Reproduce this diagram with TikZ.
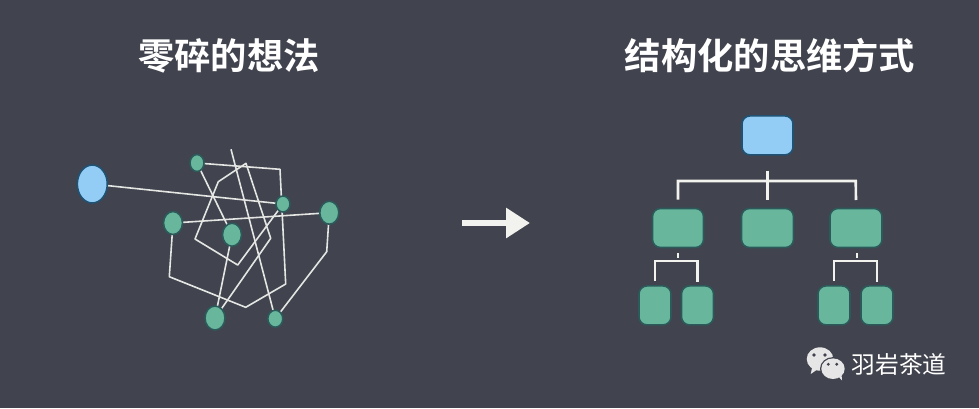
\documentclass[tikz,border=0pt]{standalone}
\usepackage{fontspec}
\usetikzlibrary{shapes.geometric,arrows.meta}
\newfontfamily\cjk{Noto Sans CJK SC}
\newfontfamily\cjkb{Noto Sans CJK SC Bold}
\definecolor{bg}{HTML}{41434E}
\definecolor{greenfill}{HTML}{68B79D}
\definecolor{greenedge}{HTML}{2C5A5A}
\definecolor{bluefill}{HTML}{93CDF6}
\definecolor{blueedge}{HTML}{1F5273}
\definecolor{wirecol}{HTML}{E4E6E3}
\definecolor{linecol}{HTML}{F2F3EF}
\definecolor{logocol}{HTML}{E6E6E6}
\tikzset{
  x=1pt,y=-1pt,
  headtext/.style={text=white,font=\cjkb\fontsize{36.3}{40}\selectfont,inner sep=0pt},
  marktext/.style={text=white,font=\cjk\fontsize{23.7}{26}\selectfont,inner sep=0pt},
  gdot/.style={ellipse,fill=greenfill,draw=greenedge,line width=1.6pt,inner sep=0pt},
  bdot/.style={ellipse,fill=bluefill,draw=blueedge,line width=1.6pt,inner sep=0pt},
  gbox/.style={rounded corners=8pt,fill=greenfill,draw=greenedge,line width=1.6pt,inner sep=0pt},
  bbox/.style={rounded corners=8pt,fill=bluefill,draw=blueedge,line width=1.6pt,inner sep=0pt},
  wire/.style={draw=wirecol,line width=1.6pt,line join=round},
  treeline/.style={draw=linecol,line width=2.6pt},
}
\newcommand{\gd}[4]{\node[gdot,minimum width=#3pt,minimum height=#4pt] (#1) at #2 {};}
\newcommand{\gb}[4]{\node[gbox,minimum width=#3pt,minimum height=#4pt] (#1) at #2 {};}
\begin{document}
\begin{tikzpicture}
\useasboundingbox (0,0) rectangle (979,408);
\fill[bg] (0,0) rectangle (979,408);
\node[headtext] (t1) at (229,56) {零碎的想法};
\node[headtext] (t2) at (770,56) {结构化的思维方式};
\coordinate (cblue) at (92.3,184);
\coordinate (c1) at (197,163);
\coordinate (c2) at (283,204);
\coordinate (c3) at (329.3,212.7);
\coordinate (c4) at (173,223);
\coordinate (c5) at (232,234.7);
\coordinate (c6) at (215,318);
\coordinate (c7) at (275.3,318.7);
\coordinate (free) at (231,149.3);
\draw[wire] (cblue) -- (c2);
\draw[wire] (c4) -- (c3);
\draw[wire] (c1) -- (c5) -- (c6);
\draw[wire] (c1) -- (280,169.3) -- (285.7,284) -- (245.7,307.3) -- (169.3,276.7) -- (c4);
\draw[wire] (c3) -- (326.7,251.7) -- (c7) -- (free);
\draw[wire] (c6) -- (270.7,238.3) -- (246,163.3) -- (218.3,181.7) -- (195,239) -- (237.7,265) -- (c2);
\node[bdot,minimum width=30pt,minimum height=38pt] (nblue) at (cblue) {};
\gd{n1}{(c1)}{14}{17}
\gd{n2}{(c2)}{14}{16}
\gd{n3}{(c3)}{19}{23}
\gd{n4}{(c4)}{19}{23}
\gd{n5}{(c5)}{19}{23}
\gd{n6}{(c6)}{20}{24}
\gd{n7}{(c7)}{15}{17}
\coordinate (as) at (462,223);
\coordinate (ae) at (530,223);
\draw[draw=linecol,line width=6.5pt,-{Triangle[length=24pt,width=29pt]}] (as) -- (ae);
\node[bbox,minimum width=51pt,minimum height=39pt] (root) at (767.5,135.4) {};
\gb{a}{(678,228)}{51}{39}
\gb{b}{(767.5,228)}{52}{39}
\gb{c}{(856,228)}{52}{39}
\gb{a1}{(655,305.4)}{32}{39}
\gb{a2}{(697.5,305.4)}{32}{39}
\gb{c1b}{(834,305.4)}{32}{39}
\gb{c2b}{(877,305.4)}{32}{39}
\draw[treeline] (root.south) ++(0,15) -- (b.north |- 0,200);
\draw[treeline] (a.north) ++(0,-8) |- (855.7,181) -- (c.north |- 0,200);
\draw[treeline] (a.south) ++(0,5) -- (678,258);
\draw[treeline] (a1.north) ++(0,-4) |- (697.5,261) -- (a2.north |- 0,281.5);
\draw[treeline] (c.south) ++(1,5) -- (857,258);
\draw[treeline] (c1b.north) ++(0,-4) |- (877,261) -- (c2b.north |- 0,281.5);
% logo
\fill[logocol] (820,359) ellipse (13.3 and 11.7);
\fill[logocol] (812,368) -- (810.7,374) -- (818,369) -- cycle;
\fill[bg] (833,368.7) ellipse (13 and 11.6);
\fill[logocol] (833,368.7) ellipse (11.7 and 10.3);
\fill[logocol] (838,376) -- (842,380.5) -- (841.5,374) -- cycle;
\fill[bg] (814,355) circle (1.9) (825,355) circle (1.9) (828.3,364.3) circle (1.6) (836.7,364.3) circle (1.6);
\node[marktext] (wm) at (899,364.5) {羽岩茶道};
\end{tikzpicture}
\end{document}
